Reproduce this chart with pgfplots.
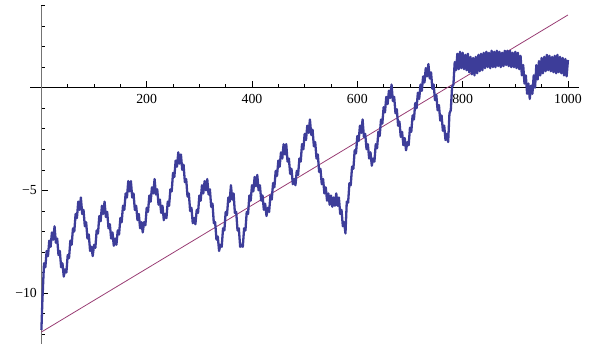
\documentclass[border=0pt]{standalone}
\usepackage{fontspec}
\setmainfont{Liberation Serif}
\usepackage{pgfplots}
\pgfplotsset{compat=1.18}
\definecolor{mblue}{rgb}{0.24,0.24,0.6}
\definecolor{mpurple}{rgb}{0.6,0.24,0.456}
\begin{document}
\begin{tikzpicture}
\begin{axis}[
  scale only axis,
  width=549pt, height=338pt,
  xmin=-21.6, xmax=1021, ymin=-12.46, ymax=4.0,
  axis lines=middle,
  axis line style={-, line width=0.6pt},
  x axis line style={black},
  y axis line style={black!55},
  clip=false,
  xtick={200,400,600,800,1000},
  xticklabels={200,400,600,800,1000},
  minor xtick={50,100,150,250,300,350,450,500,550,650,700,750,850,900,950},
  ytick={-10,-5},
  yticklabels={−10,−5},
  minor ytick={-12,-11,-9,-8,-7,-6,-4,-3,-2,-1,1,2,3,4},
  tick align=inside,
  major tick length=6.7pt, minor tick length=3.8pt,
  tick style={black, line width=0.5pt},
  xticklabel style={font=\fontsize{13.8}{16}\selectfont, yshift=-3pt},
  yticklabel style={font=\fontsize{13.8}{16}\selectfont, xshift=-1pt},
  /pgf/number format/assume math mode=true,
]
\path (axis cs:-78.6,-12.76) rectangle (axis cs:1040,4.27);
\addplot[mpurple, line width=0.8pt] coordinates {(0,-11.9) (1000,3.54)};
\addplot[mblue, line width=2.3pt, line join=round] coordinates {
(0,-11.8) (2,-10.3)
(5,-8.55) (7.5,-8.75) (10,-7.95) (12.5,-8.2) (15,-7.45) (17.5,-7.75) (20,-7.05) (22.5,-7.4)
(25,-6.75) (27.5,-7.55) (30,-7.35) (32.5,-8.15) (35,-7.95) (37.5,-8.75) (40,-8.55) (42.5,-9.2)
(45,-8.85) (47.5,-9.0) (50,-8.15) (52.5,-8.3) (55,-7.45) (57.5,-7.65) (60,-6.85) (62.5,-7.0)
(65,-6.15) (67.5,-6.35) (70,-5.55) (72.5,-5.95) (75,-5.35) (77.5,-6.15) (80,-5.95) (82.5,-6.75)
(85,-6.55) (87.5,-7.35) (90,-7.15) (92.5,-7.95) (95,-7.75) (97.5,-8.2) (100,-7.65) (102.5,-7.8)
(105,-6.95) (107.5,-7.1) (110,-6.25) (112.5,-6.5) (115,-5.75) (117.5,-6.15) (120,-5.55) (122.5,-6.3)
(125,-6.05) (127.5,-6.85) (130,-6.65) (132.5,-7.35) (135,-7.05) (137.5,-7.7) (140,-7.35) (142.5,-7.65)
(145,-6.95) (147.5,-7.15) (150,-6.35) (152.5,-6.55) (155,-5.75) (157.5,-5.95) (160,-5.15) (162.5,-5.35)
(165,-4.55) (167.5,-5.05) (170,-4.55) (172.5,-5.35) (175,-5.15) (177.5,-5.95) (180,-5.75) (182.5,-6.45)
(185,-6.15) (187.5,-6.85) (190,-6.55) (192.5,-7.05) (195,-6.55) (197.5,-6.7) (200,-5.85) (202.5,-6.05)
(205,-5.25) (207.5,-5.55) (210,-4.85) (212.5,-5.15) (215,-4.45) (217.5,-5.2) (220,-4.95) (222.5,-5.7)
(225,-5.45) (227.5,-6.1) (230,-5.75) (232.5,-6.45) (235,-6.15) (237.5,-6.35) (240,-5.55) (242.5,-5.75)
(245,-4.95) (247.5,-5.05) (250,-4.15) (252.5,-4.35) (255,-3.55) (257.5,-3.85) (260,-3.15) (262.5,-3.7)
(265,-3.25) (267.5,-4.0) (270,-3.75) (272.5,-4.6) (275,-4.45) (277.5,-5.3) (280,-5.15) (282.5,-6.0)
(285,-5.85) (287.5,-6.6) (290,-6.35) (292.5,-6.65) (295,-5.95) (297.5,-6.1) (300,-5.25) (302.5,-5.5)
(305,-4.75) (307.5,-5.15) (310,-4.55) (312.5,-5.0) (315,-4.45) (317.5,-5.2) (320,-4.95) (322.5,-5.8)
(325,-5.65) (327.5,-6.6) (330,-6.55) (332.5,-7.4) (335,-7.25) (337.5,-7.95) (340,-7.65) (342.5,-7.75)
(345,-6.85) (347.5,-6.95) (350,-6.05) (352.5,-6.2) (355,-5.35) (357.5,-5.55) (360,-4.75) (362.5,-5.45)
(365,-5.15) (367.5,-6.1) (370,-6.05) (372.5,-6.95) (375,-6.85) (377.5,-7.75) (380,-7.65) (382.5,-7.75)
(385,-6.85) (387.5,-6.95) (390,-6.05) (392.5,-6.15) (395,-5.25) (397.5,-5.5) (400,-4.75) (402.5,-5.05)
(405,-4.35) (407.5,-4.8) (410,-4.25) (412.5,-5.0) (415,-4.75) (417.5,-5.5) (420,-5.25) (422.5,-5.95)
(425,-5.65) (427.5,-6.25) (430,-5.85) (432.5,-6.05) (435,-5.25) (437.5,-5.45) (440,-4.65) (442.5,-4.85)
(445,-4.05) (447.5,-4.3) (450,-3.55) (452.5,-3.85) (455,-3.15) (457.5,-3.45) (460,-2.75) (462.5,-3.25)
(465,-2.75) (467.5,-3.6) (470,-3.45) (472.5,-4.2) (475,-3.95) (477.5,-4.7) (480,-4.45) (482.5,-4.75)
(485,-4.05) (487.5,-4.25) (490,-3.45) (492.5,-3.6) (495,-2.75) (497.5,-3.0) (500,-2.25) (502.5,-2.55)
(505,-1.85) (507.5,-2.2) (510,-1.55) (512.5,-2.3) (515,-2.05) (517.5,-2.85) (520,-2.65) (522.5,-3.45)
(525,-3.25) (527.5,-4.1) (530,-3.95) (532.5,-4.7) (535,-4.45) (537.5,-5.15) (540,-4.85) (542.5,-5.5)
(545,-5.15) (547.5,-5.7) (550,-5.25) (552.5,-5.8) (555,-5.35) (557.5,-5.75) (560,-5.15) (562.5,-5.75)
(565,-5.35) (567.5,-6.15) (570,-5.95) (572.5,-6.75) (575,-6.55) (577.5,-7.1) (580,-5.55) (582.5,-5.6)
(585,-4.65) (587.5,-4.75) (590,-3.85) (592.5,-3.95) (595,-3.05) (597.5,-3.2) (600,-2.35) (602.5,-2.6)
(605,-1.85) (607.5,-2.2) (610,-1.55) (612.5,-2.4) (615,-2.25) (617.5,-3.0) (620,-2.75) (622.5,-3.45)
(625,-3.15) (627.5,-3.8) (630,-3.45) (632.5,-3.6) (635,-2.75) (637.5,-2.95) (640,-2.15) (642.5,-2.35)
(645,-1.55) (647.5,-1.75) (650,-0.95) (652.5,-1.2) (655,-0.45) (657.5,-0.8) (660,-0.15) (662.5,-0.5)
(665,0.15) (667.5,-0.65) (670,-0.45) (672.5,-1.25) (675,-1.05) (677.5,-1.85) (680,-1.65) (682.5,-2.4)
(685,-2.15) (687.5,-2.8) (690,-2.45) (692.5,-3.05) (695,-2.65) (697.5,-2.8) (700,-1.95) (702.5,-2.15)
(705,-1.35) (707.5,-1.55) (710,-0.75) (712.5,-1.0) (715,-0.25) (717.5,-0.55) (720,0.15) (722.5,-0.15)
(725,0.55) (727.5,0.25) (730,0.95) (732.5,0.55) (735,1.15) (737.5,0.45) (740,0.75) (742.5,-0.05)
(745,0.15) (747.5,-0.6) (750,-0.35) (752.5,-1.1) (755,-0.85) (757.5,-1.6) (760,-1.35) (762.5,-2.1)
(765,-1.85) (767.5,-2.55) (770,-2.25) (772.5,-2.65) (775,-1.25) (777.5,-1.1) (780,0.05) (782.5,0.15)
(785,1.25) (787.5,0.85) (790,1.65) (792.5,0.9) (795,1.75) (797.5,0.95) (800,1.7) (802.5,0.9)
(805,1.6) (807.5,0.85) (810,1.65) (812.5,0.75) (815,1.5) (817.5,0.65) (820,1.45) (822.5,0.6)
(825,1.5) (827.5,0.7) (830,1.6) (832.5,0.8) (835,1.65) (837.5,0.85) (840,1.7) (842.5,0.95)
(845,1.75) (847.5,1.0) (850,1.7) (852.5,0.95) (855,1.8) (857.5,1.0) (860,1.75) (862.5,1.0)
(865,1.8) (867.5,1.05) (870,1.75) (872.5,1.0) (875,1.7) (877.5,1.05) (880,1.8) (882.5,1.1)
(885,1.8) (887.5,1.05) (890,1.8) (892.5,1.0) (895,1.7) (897.5,1.0) (900,1.75) (902.5,0.95)
(905,1.7) (907.5,0.9) (910,1.55) (912.5,0.6) (915,1.1) (917.5,0.2) (920,0.6) (922.5,-0.3)
(925,0.2) (927.5,-0.55) (930,0.1) (932.5,-0.3) (935,0.6) (937.5,0.0) (940,1.1) (942.5,0.4)
(945,1.3) (947.5,0.6) (950,1.45) (952.5,0.7) (955,1.5) (957.5,0.8) (960,1.6) (962.5,0.85)
(965,1.55) (967.5,0.8) (970,1.5) (972.5,0.75) (975,1.55) (977.5,0.7) (980,1.6) (982.5,0.75)
(985,1.5) (987.5,0.7) (990,1.45) (992.5,0.6) (995,1.4) (997.5,0.55) (1000,1.35)
};
\end{axis}
\end{tikzpicture}
\end{document}
